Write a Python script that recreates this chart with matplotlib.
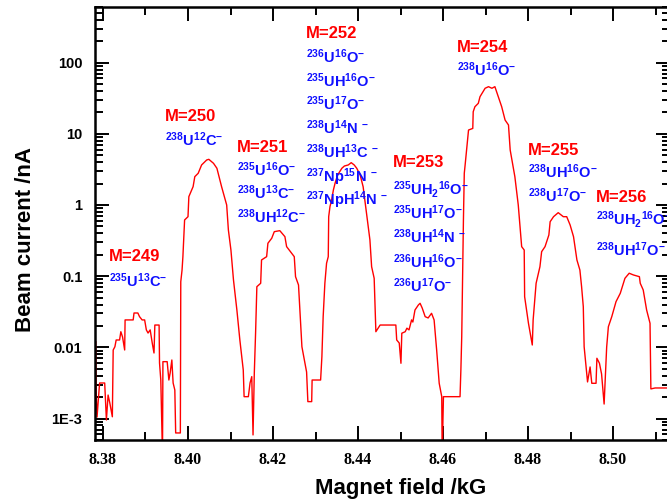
import matplotlib
matplotlib.use('Agg')
import matplotlib.pyplot as plt
from matplotlib.ticker import FixedLocator, FixedFormatter, LogLocator, MultipleLocator, NullFormatter

plt.rcParams['font.family'] = ['Liberation Sans', 'DejaVu Sans']
plt.rcParams['mathtext.fontset'] = 'custom'
plt.rcParams['mathtext.rm'] = 'Liberation Sans:bold'
plt.rcParams['mathtext.it'] = 'Liberation Sans:bold'
plt.rcParams['mathtext.bf'] = 'Liberation Sans:bold'
plt.rcParams['mathtext.default'] = 'rm'

# scan trace (0.0003 = dips below the axis)
field_kG = [
    8.3783, 8.3784, 8.3786, 8.3792, 8.3804, 8.3808, 8.3812, 8.3816, 8.3822, 8.3824,
    8.3828, 8.3831, 8.3839, 8.3842, 8.3846, 8.3851, 8.3852, 8.3871, 8.3873, 8.3882,
    8.3886, 8.3892, 8.3898, 8.3902, 8.3906, 8.3911, 8.3916, 8.3920, 8.3922, 8.3932,
    8.3933, 8.3936, 8.3940, 8.3941, 8.3951, 8.3955, 8.3958, 8.3962, 8.3965, 8.3969,
    8.3971, 8.3982, 8.3983, 8.3986, 8.3988, 8.3992, 8.4000, 8.4002, 8.4012, 8.4016,
    8.4024, 8.4032, 8.4044, 8.4049, 8.4060, 8.4068, 8.4073, 8.4079, 8.4091, 8.4095,
    8.4101, 8.4107, 8.4115, 8.4122, 8.4130, 8.4132, 8.4142, 8.4146, 8.4150, 8.4153,
    8.4156, 8.4159, 8.4162, 8.4171, 8.4173, 8.4185, 8.4188, 8.4197, 8.4203, 8.4216,
    8.4228, 8.4232, 8.4244, 8.4250, 8.4253, 8.4260, 8.4264, 8.4268, 8.4279, 8.4282,
    8.4291, 8.4292, 8.4312, 8.4315, 8.4318, 8.4322, 8.4326, 8.4330, 8.4331, 8.4334,
    8.4338, 8.4342, 8.4346, 8.4352, 8.4362, 8.4368, 8.4377, 8.4384, 8.4391, 8.4397,
    8.4405, 8.4412, 8.4420, 8.4428, 8.4432, 8.4438, 8.4442, 8.4452, 8.4489, 8.4491,
    8.4497, 8.4501, 8.4503, 8.4511, 8.4515, 8.4520, 8.4526, 8.4529, 8.4534, 8.4542,
    8.4546, 8.4551, 8.4558, 8.4565, 8.4573, 8.4579, 8.4585, 8.4591, 8.4597, 8.4598,
    8.4601, 8.4640, 8.4642, 8.4644, 8.4646, 8.4648, 8.4650, 8.4652, 8.4660, 8.4670,
    8.4671, 8.4675, 8.4683, 8.4687, 8.4699, 8.4707, 8.4715, 8.4722, 8.4730, 8.4738,
    8.4746, 8.4754, 8.4758, 8.4769, 8.4777, 8.4785, 8.4791, 8.4792, 8.4801, 8.4810,
    8.4812, 8.4819, 8.4828, 8.4832, 8.4840, 8.4849, 8.4852, 8.4860, 8.4871, 8.4883,
    8.4891, 8.4899, 8.4907, 8.4915, 8.4922, 8.4926, 8.4930, 8.4932, 8.4940, 8.4946,
    8.4950, 8.4960, 8.4962, 8.4968, 8.4973, 8.4979, 8.4985, 8.4989, 8.4997, 8.5007,
    8.5017, 8.5028, 8.5038, 8.5048, 8.5062, 8.5064, 8.5071, 8.5079, 8.5087, 8.5089,
    8.5099, 8.5164,
]
current_nA = [
    0.0120, 0.00229, 0.00105, 0.00316, 0.00316, 0.000955, 0.00214, 0.00166, 0.00106, 0.00919,
    0.0102, 0.0127, 0.0127, 0.0166, 0.0140, 0.00919, 0.0243, 0.0243, 0.0304, 0.0304,
    0.0270, 0.0243, 0.0243, 0.0176, 0.0159, 0.0176, 0.0114, 0.00834, 0.0206, 0.0206,
    0.00604, 0.00348, 0.0003, 0.00630, 0.00630, 0.00348, 0.00437, 0.00665, 0.00316, 0.00252,
    0.000628, 0.000628, 0.0837, 0.122, 0.188, 0.616, 0.685, 1.31, 1.81, 2.50,
    2.79, 3.65, 4.29, 4.38, 3.85, 3.28, 2.50, 1.81, 1.00, 0.446,
    0.233, 0.0885, 0.0335, 0.0127, 0.00482, 0.00203, 0.00203, 0.00316, 0.00388, 0.000589,
    0.00437, 0.0159, 0.0712, 0.0795, 0.169, 0.188, 0.290, 0.341, 0.422, 0.436,
    0.359, 0.260, 0.210, 0.188, 0.0984, 0.0752, 0.0270, 0.0102, 0.00451, 0.00173,
    0.00173, 0.00348, 0.00348, 0.00740, 0.0270, 0.0795, 0.152, 0.188, 0.685, 0.946,
    1.18, 1.62, 2.02, 2.64, 3.28, 3.53, 3.65, 3.93, 3.65, 3.28,
    2.64, 1.81, 0.765, 0.323, 0.136, 0.0934, 0.0166, 0.0206, 0.0206, 0.0127,
    0.0115, 0.00598, 0.0158, 0.0166, 0.0186, 0.0176, 0.0243, 0.0227, 0.0335, 0.0394,
    0.0416, 0.0357, 0.0270, 0.0259, 0.0301, 0.0243, 0.00919, 0.00313, 0.00203, 0.0003,
    0.00203, 0.00203, 0.00482, 0.0141, 0.0984, 0.616, 2.79, 3.65, 11.3, 11.9,
    20.4, 24.0, 26.8, 33.2, 43.6, 45.9, 43.6, 45.9, 33.2, 24.0,
    15.6, 13.3, 5.92, 2.50, 1.00, 0.260, 0.233, 0.0515, 0.0218, 0.0108,
    0.0243, 0.0795, 0.136, 0.221, 0.260, 0.379, 0.582, 0.685, 0.780, 0.685,
    0.685, 0.524, 0.359, 0.169, 0.122, 0.0712, 0.0373, 0.0102, 0.00327, 0.00531,
    0.00313, 0.00313, 0.00703, 0.00598, 0.00423, 0.00160, 0.0101, 0.0195, 0.0270, 0.0439,
    0.0575, 0.0934, 0.110, 0.104, 0.0984, 0.0795, 0.0640, 0.0335, 0.0218, 0.00261,
    0.00269, 0.00269,
]

xtick_values = [8.38, 8.40, 8.42, 8.44, 8.46, 8.48, 8.50]
xtick_labels = ['8.38', '8.40', '8.42', '8.44', '8.46', '8.48', '8.50']
ytick_values = [1e-3, 0.01, 0.1, 1, 10, 100]
ytick_labels = ['1E-3', '0.01', '0.1', '1', '10', '100']

mass_labels = ['M=249', 'M=250', 'M=251', 'M=252', 'M=253', 'M=254', 'M=255', 'M=256']
formulas = [
    [r'${}^{235}U^{13}C^{-}$'],
    [r'${}^{238}U^{12}C^{-}$'],
    [r'${}^{235}U^{16}O^{-}$', r'${}^{238}U^{13}C^{-}$', r'${}^{238}UH^{12}C^{-}$'],
    [r'${}^{236}U^{16}O^{-}$', r'${}^{235}UH^{16}O^{-}$', r'${}^{235}U^{17}O^{-}$',
     r'${}^{238}U^{14}N\ {}^{-}$', r'${}^{238}UH^{13}C\ {}^{-}$',
     r'${}^{237}Np^{15}N\ {}^{-}$', r'${}^{237}NpH^{14}N\ {}^{-}$'],
    [r'${}^{235}UH_{2}{}^{16}O^{-}$', r'${}^{235}UH^{17}O^{-}$', r'${}^{238}UH^{14}N\ {}^{-}$',
     r'${}^{236}UH^{16}O^{-}$', r'${}^{236}U^{17}O^{-}$'],
    [r'${}^{238}U^{16}O^{-}$'],
    [r'${}^{238}UH^{16}O^{-}$', r'${}^{238}U^{17}O^{-}$'],
    [r'${}^{238}UH_{2}{}^{16}O^{-}$', r'${}^{238}UH^{17}O^{-}$'],
]
# anchor of each group (left edge, baseline of the M= label)
label_x = [8.3814, 8.3946, 8.4115, 8.4278, 8.4482, 8.4633, 8.4800, 8.4960]
label_y = [0.163, 15.1, 5.55, 222, 3.42, 141, 5.04, 1.10]
first_gap = [19, 18, 17, 18, 20, 17.3, 16.6, 16.6]
line_gap = [17, 17, 17, 17.1, 17.5, 17, 17.3, 22]

fig = plt.figure(figsize=(6.67, 5.01), dpi=100)
ax = fig.add_axes([95 / 667, 1 - 440 / 501, 575 / 667, 433 / 501])

ax.plot(field_kG, current_nA, color='#ff0000', lw=1.0)

ax.set_yscale('log')
ax.set_xlim(8.37812, 8.5134)
ax.set_ylim(5.0e-4, 604)

ax.xaxis.set_major_locator(FixedLocator(xtick_values))
ax.xaxis.set_major_formatter(FixedFormatter(xtick_labels))
ax.xaxis.set_minor_locator(MultipleLocator(0.01))
ax.yaxis.set_major_locator(FixedLocator(ytick_values))
ax.yaxis.set_major_formatter(FixedFormatter(ytick_labels))
ax.yaxis.set_minor_locator(LogLocator(base=10, subs=range(2, 10), numticks=20))
ax.yaxis.set_minor_formatter(NullFormatter())

ax.tick_params(which='both', direction='in', top=True, right=True, width=1.4, color='black')
ax.tick_params(which='major', length=10, pad=9)
ax.tick_params(which='minor', length=6)
for lab in ax.get_xticklabels():
    lab.set_fontfamily('Liberation Serif')
    lab.set_fontweight('bold')
    lab.set_fontsize(11.5)
for lab in ax.get_yticklabels():
    lab.set_fontweight('bold')
    lab.set_fontsize(10.5)
for sp in ax.spines.values():
    sp.set_linewidth(1.8)

ax.set_xlabel('Magnet field /kG', fontsize=16, fontweight='bold')
ax.set_ylabel('Beam current /nA', fontsize=16, fontweight='bold')
ax.xaxis.set_label_coords(0.532, -0.088)
ax.yaxis.set_label_coords(-0.102, 0.464)

for i, m in enumerate(mass_labels):
    ax.text(label_x[i], label_y[i], m, color='#ff0000', fontsize=12,
            fontweight='bold', ha='left', va='baseline')
    for j, f in enumerate(formulas[i]):
        off = first_gap[i] + j * line_gap[i]
        ax.annotate(f, (label_x[i], label_y[i]), xytext=(0, -off),
                    textcoords='offset points', color='#1010ff', fontsize=10.5,
                    ha='left', va='baseline', annotation_clip=False)

fig.savefig('out.png', dpi=100)
plt.close(fig)
